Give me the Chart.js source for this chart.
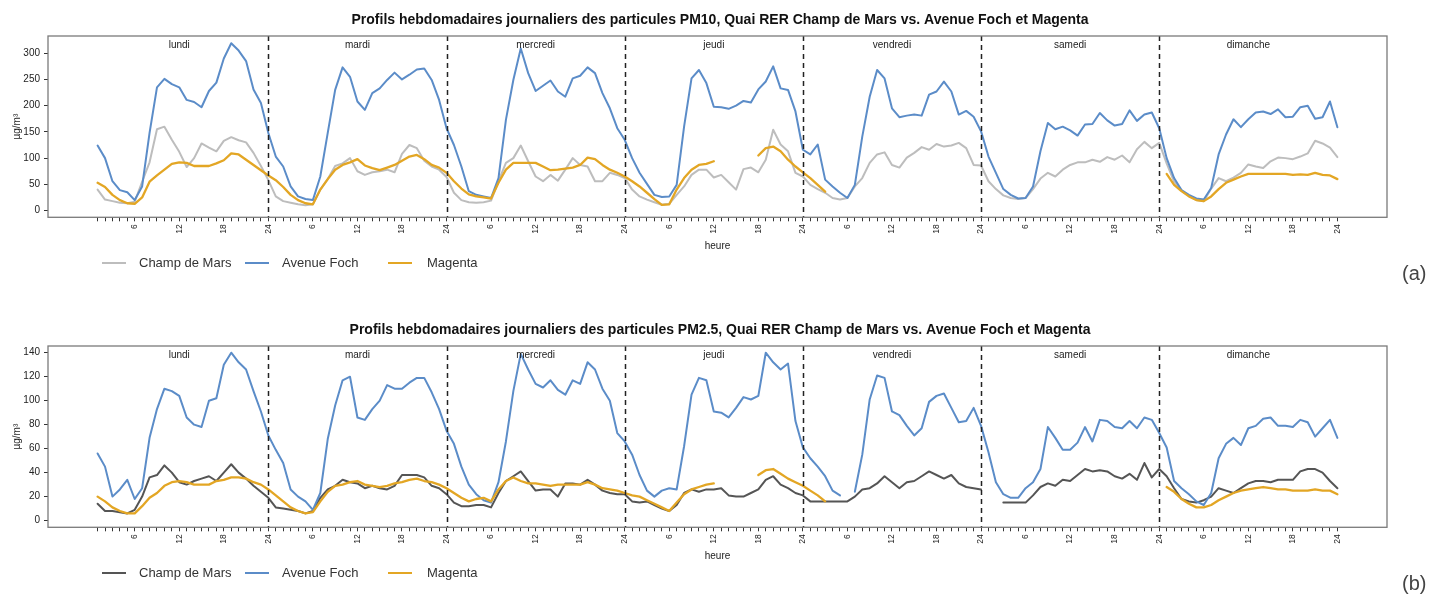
<!DOCTYPE html>
<html lang="fr">
<head>
<meta charset="utf-8">
<title>Profils hebdomadaires PM10 / PM2.5</title>
<script src="https://cdn.jsdelivr.net/npm/chart.js@4/dist/chart.umd.min.js"></script>
<style>
  html, body { margin: 0; padding: 0; background: #fff; width: 1440px; height: 599px; overflow: hidden;
    font-family: "Liberation Sans", Arial, sans-serif; }
  .panel { position: absolute; left: 0; width: 1440px; height: 300px; }
  #panelA { top: 0; }
  #panelB { top: 310px; }
  .legend { position: absolute; left: 0; top: 253px; height: 20px; width: 600px; font-size: 13px; color: #333; }
  .legend .sw { position: absolute; top: 9px; width: 24px; height: 0; border-top: 2px solid; }
  .legend .tx { position: absolute; top: 2px; white-space: nowrap; }
  .tag { position: absolute; left: 1402px; top: 262px; font-size: 20px; color: #444; }
</style>
</head>
<body>
<div class="panel" id="panelA">
  <canvas id="chartA" width="1440" height="300"></canvas>
  <div class="legend" id="legendA"></div>
  <div class="tag">(a)</div>
</div>
<div class="panel" id="panelB">
  <canvas id="chartB" width="1440" height="300"></canvas>
  <div class="legend" id="legendB"></div>
  <div class="tag">(b)</div>
</div>
<script>
// Days of the week, one block of 24 hourly values per day
const days = ['lundi', 'mardi', 'mercredi', 'jeudi', 'vendredi', 'samedi', 'dimanche'];
// Hour labels shown every 6 hours (hour of day modulo 24 -> label)
const hourTickLabels = { 6: '6', 12: '12', 18: '18', 0: '24' };
const seriesNames = ['Champ de Mars', 'Avenue Foch', 'Magenta'];
const yTicksPM10 = [0, 50, 100, 150, 200, 250, 300];
const yTicksPM25 = [0, 20, 40, 60, 80, 100, 120, 140];

// PM10 (µg/m³), hours 1..24 for each day from lundi to dimanche
const pm10ChampDeMars = [
  40, 21, 18, 15, 14, 17, 55, 92, 155, 160, 135, 112, 83, 100, 128, 120, 113, 133, 140, 134, 130, 110, 85, 58,
  27, 18, 15, 12, 10, 12, 40, 60, 85, 90, 100, 75, 68, 73, 75, 78, 73, 108, 125, 119, 95, 84, 78, 64,
  34, 20, 16, 15, 16, 19, 56, 91, 100, 124, 94, 65, 56, 68, 57, 78, 100, 87, 84, 56, 56, 72, 68, 62,
  40, 27, 21, 16, 11, 13, 30, 46, 68, 78, 78, 63, 68, 54, 40, 79, 82, 73, 97, 154, 126, 113, 72, 65,
  49, 41, 34, 24, 21, 24, 46, 62, 91, 107, 111, 87, 82, 101, 110, 121, 116, 127, 122, 124, 129, 119, 87, 86,
  56, 41, 29, 24, 22, 24, 41, 61, 72, 65, 78, 87, 92, 92, 97, 93, 102, 97, 105, 92, 117, 131, 119, 129,
  90, 55, 38, 28, 20, 18, 42, 62, 56, 63, 72, 88, 84, 81, 94, 101, 100, 98, 103, 109, 133, 128, 120, 102
];
const pm10AvenueFoch = [
  124, 100, 56, 39, 35, 20, 46, 148, 235, 251, 241, 235, 211, 207, 197, 228, 244, 290, 319, 305, 285, 231, 205, 148,
  103, 84, 46, 27, 22, 20, 65, 148, 230, 273, 255, 208, 192, 224, 233, 249, 263, 250, 259, 269, 271, 249, 211, 157,
  125, 84, 37, 30, 27, 24, 62, 173, 249, 309, 262, 228, 238, 248, 227, 217, 252, 257, 273, 262, 224, 195, 157, 135,
  100, 72, 51, 30, 26, 27, 49, 160, 252, 268, 243, 198, 197, 194, 200, 209, 206, 231, 246, 275, 233, 230, 189, 116,
  107, 126, 59, 46, 34, 24, 49, 141, 217, 268, 252, 195, 178, 181, 183, 181, 221, 227, 246, 227, 183, 190, 179, 151,
  103, 72, 41, 30, 23, 24, 46, 113, 167, 155, 160, 153, 143, 164, 165, 186, 172, 162, 165, 191, 171, 183, 187, 157,
  100, 62, 39, 30, 23, 21, 43, 107, 145, 174, 159, 174, 187, 189, 184, 193, 178, 179, 197, 200, 175, 178, 208, 159
];
const pm10Magenta = [
  53, 45, 30, 20, 14, 13, 25, 55, 67, 78, 89, 92, 91, 85, 85, 85, 90, 96, 109, 107, 97, 87, 77, 67,
  58, 45, 30, 20, 14, 12, 40, 60, 78, 87, 92, 98, 86, 81, 77, 82, 87, 95, 103, 106, 98, 87, 82, 72,
  56, 42, 31, 27, 25, 23, 53, 78, 91, 91, 91, 91, 84, 77, 78, 80, 82, 87, 101, 98, 87, 78, 72, 65,
  56, 46, 34, 22, 11, 12, 40, 62, 78, 87, 89, 94, null, null, null, null, null, 105, 119, 122, 113, 97, 84, 73,
  62, 49, 36, null, null, null, null, null, null, null, null, null, null, null, null, null, null, null, null, null, null, null, null, null,
  null, null, null, null, null, null, null, null, null, null, null, null, null, null, null, null, null, null, null, null, null, null, null, null,
  70, 49, 37, 27, 20, 18, 27, 41, 53, 59, 65, 70, 70, 70, 70, 70, 70, 68, 69, 68, 72, 68, 67, 60
];

// PM2.5 (µg/m³), same layout
const pm25ChampDeMars = [
  14, 8, 8, 7, 6, 9, 20, 36, 38, 46, 40, 32, 30, 33, 35, 37, 33, 40, 47, 40, 35, 29, 24, 19,
  11, 10, 9, 8, 6, 8, 19, 26, 29, 34, 32, 31, 27, 29, 27, 26, 29, 38, 38, 38, 36, 29, 27, 22,
  15, 12, 12, 13, 13, 11, 23, 33, 37, 41, 33, 25, 26, 26, 20, 31, 31, 30, 34, 30, 25, 23, 22, 22,
  16, 15, 16, 13, 10, 8, 13, 23, 26, 24, 26, 26, 27, 21, 20, 20, 23, 26, 34, 37, 30, 27, 23, 21,
  16, 16, 16, 16, 16, 16, 20, 26, 27, 31, 37, 32, 27, 32, 33, 37, 41, 38, 35, 38, 31, 28, 27, 26,
  null, null, 15, 15, 15, 15, 21, 28, 31, 29, 34, 33, 38, 43, 41, 42, 41, 37, 35, 39, 34, 48, 36, 43,
  37, 27, 18, 16, 15, 17, 20, 27, 25, 23, 27, 31, 33, 33, 32, 34, 34, 34, 41, 43, 43, 40, 33, 27
];
const pm25AvenueFoch = [
  56, 45, 20, 26, 34, 18, 27, 69, 93, 110, 108, 104, 86, 80, 78, 100, 102, 130, 140, 132, 126, 108, 91, 71,
  59, 48, 26, 20, 16, 9, 23, 68, 96, 117, 120, 86, 84, 93, 100, 113, 110, 110, 115, 119, 119, 107, 93, 75,
  64, 45, 30, 22, 17, 15, 32, 66, 108, 139, 126, 114, 111, 117, 109, 105, 117, 114, 132, 126, 110, 100, 73, 66,
  55, 38, 25, 20, 25, 27, 26, 62, 105, 119, 117, 91, 90, 86, 94, 103, 101, 104, 140, 132, 126, 131, 83, 61,
  52, 45, 37, 25, 21, null, 24, 55, 101, 121, 119, 91, 88, 79, 71, 77, 99, 104, 106, 94, 82, 83, 94, 79,
  57, 32, 22, 19, 19, 27, 32, 43, 78, 69, 59, 59, 65, 78, 66, 84, 83, 78, 77, 83, 77, 86, 84, 73,
  61, 33, 27, 22, 16, 13, 23, 52, 64, 69, 63, 77, 79, 85, 86, 79, 79, 78, 84, 82, 70, 77, 84, 69
];
const pm25Magenta = [
  20, 16, 11, 8, 6, 6, 12, 19, 23, 29, 32, 33, 32, 30, 30, 30, 33, 34, 36, 36, 35, 32, 30, 26,
  21, 16, 11, 8, 6, 7, 16, 24, 29, 30, 32, 33, 30, 29, 28, 29, 31, 32, 34, 35, 33, 32, 30, 27,
  23, 19, 16, 18, 19, 16, 26, 33, 36, 33, 31, 31, 30, 29, 30, 30, 30, 30, 32, 30, 27, 26, 25, 23,
  21, 20, 17, 14, 11, 8, 15, 22, 26, 28, 30, 31, null, null, null, null, null, 38, 42, 43, 39, 35, 32, 29,
  25, 21, 16, null, null, null, null, null, null, null, null, null, null, null, null, null, null, null, null, null, null, null, null, null,
  null, null, null, null, null, null, null, null, null, null, null, null, null, null, null, null, null, null, null, null, null, null, null, null,
  28, 24, 18, 14, 11, 11, 13, 17, 20, 23, 25, 26, 27, 28, 27, 26, 26, 25, 25, 25, 26, 25, 25, 22
];

// Hour index over the week: 1..168
const weekHours = [];
for (let d = 0; d < days.length; d++) {
  for (let h = 1; h <= 24; h++) weekHours.push(d * 24 + h);
}

const FONT = "'Liberation Sans', Arial, sans-serif";
Chart.defaults.font.family = FONT;
Chart.defaults.color = '#222';

const colBlue = '#5b8cc8';
const colGold = '#e3a624';

// Dashed day separators, day names and the plot frame
const weekDecor = {
  id: 'weekDecor',
  afterDatasetsDraw(chart) {
    const { ctx, chartArea: a, scales: { x } } = chart;
    ctx.save();
    ctx.strokeStyle = '#222';
    ctx.lineWidth = 1.5;
    ctx.setLineDash([5, 4]);
    for (let d = 1; d < days.length; d++) {
      const px = Math.round(x.getPixelForValue(d * 24)) + 0.5;
      ctx.beginPath();
      ctx.moveTo(px, a.top);
      ctx.lineTo(px, a.bottom);
      ctx.stroke();
    }
    ctx.setLineDash([]);
    ctx.fillStyle = '#222';
    ctx.font = '10px ' + FONT;
    ctx.textAlign = 'center';
    ctx.textBaseline = 'middle';
    days.forEach((name, d) => {
      ctx.fillText(name, x.getPixelForValue(d * 24 + 12), a.top + 9);
    });
    ctx.strokeStyle = '#7a7a7a';
    ctx.lineWidth = 1.3;
    ctx.strokeRect(a.left, a.top, a.right - a.left, a.bottom - a.top);
    ctx.restore();
  }
};

function buildChart(canvasId, titleText, champ, foch, magenta, champColor, yMin, yMax, yTicks) {
  return new Chart(document.getElementById(canvasId), {
    type: 'line',
    data: {
      labels: weekHours,
      datasets: [
        { label: seriesNames[0], data: champ, borderColor: champColor, borderWidth: 2, order: 3 },
        { label: seriesNames[1], data: foch, borderColor: colBlue, borderWidth: 2, order: 2 },
        { label: seriesNames[2], data: magenta, borderColor: colGold, borderWidth: 2.3, order: 1 }
      ]
    },
    options: {
      responsive: false,
      animation: false,
      devicePixelRatio: 1,
      spanGaps: false,
      elements: { point: { radius: 0, hoverRadius: 0 }, line: { tension: 0, borderJoinStyle: 'round', borderCapStyle: 'round' } },
      layout: { padding: 0 },
      plugins: {
        legend: { display: false },
        tooltip: { enabled: false },
        title: {
          display: true, text: titleText, color: '#111',
          font: { size: 14, weight: 'bold', family: FONT },
          padding: { top: 11.6, bottom: 7.6 }
        }
      },
      scales: {
        x: {
          type: 'linear', min: -5.68, max: 174.68,
          afterBuildTicks: (s) => { s.ticks = weekHours.map(v => ({ value: v })); },
          afterFit: (s) => { s.height = 82.7; },
          grid: { display: true, drawOnChartArea: false, drawTicks: true, tickLength: 4, color: '#333', lineWidth: 1 },
          border: { display: false },
          ticks: {
            autoSkip: false, minRotation: 90, maxRotation: 90, padding: 3,
            font: { size: 8.5 }, color: '#222',
            callback: (v) => (v % 6 === 0 ? hourTickLabels[v % 24] : '')
          },
          title: { display: true, text: 'heure', color: '#222', font: { size: 10 }, padding: { top: 0, bottom: 48 } }
        },
        y: {
          min: yMin, max: yMax,
          afterBuildTicks: (s) => { s.ticks = yTicks.map(v => ({ value: v })); },
          afterFit: (s) => { s.width = 48; },
          grid: { display: true, drawOnChartArea: false, drawTicks: true, tickLength: 4, color: '#333', lineWidth: 1 },
          border: { display: false },
          ticks: { padding: 4, font: { size: 10 }, color: '#222' },
          title: { display: true, text: 'µg/m³', color: '#222', font: { size: 10 }, padding: { top: 11, bottom: 0 } }
        },
        // empty right-hand margin so the title stays centred on the page
        yMargin: {
          type: 'linear', position: 'right', min: 0, max: 1,
          afterFit: (s) => { s.width = 53; },
          grid: { display: false },
          border: { display: false },
          ticks: { display: false }
        }
      }
    },
    plugins: [weekDecor]
  });
}

buildChart('chartA',
  'Profils hebdomadaires journaliers des particules PM10, Quai RER Champ de Mars vs. Avenue Foch et Magenta',
  pm10ChampDeMars, pm10AvenueFoch, pm10Magenta, '#bdbdbd', -12.8, 332.8, yTicksPM10);
buildChart('chartB',
  'Profils hebdomadaires journaliers des particules PM2.5, Quai RER Champ de Mars vs. Avenue Foch et Magenta',
  pm25ChampDeMars, pm25AvenueFoch, pm25Magenta, '#555555', -5.6, 145.6, yTicksPM25);

// Legends below each panel
function buildLegend(id, champColor) {
  const el = document.getElementById(id);
  const colors = [champColor, colBlue, colGold];
  const swX = [102, 245, 388];
  const txX = [139, 282, 427];
  seriesNames.forEach((name, i) => {
    const sw = document.createElement('div');
    sw.className = 'sw';
    sw.style.left = swX[i] + 'px';
    sw.style.borderTopColor = colors[i];
    el.appendChild(sw);
    const tx = document.createElement('div');
    tx.className = 'tx';
    tx.style.left = txX[i] + 'px';
    tx.textContent = name;
    el.appendChild(tx);
  });
}
buildLegend('legendA', '#bdbdbd');
buildLegend('legendB', '#555555');
</script>
</body>
</html>
